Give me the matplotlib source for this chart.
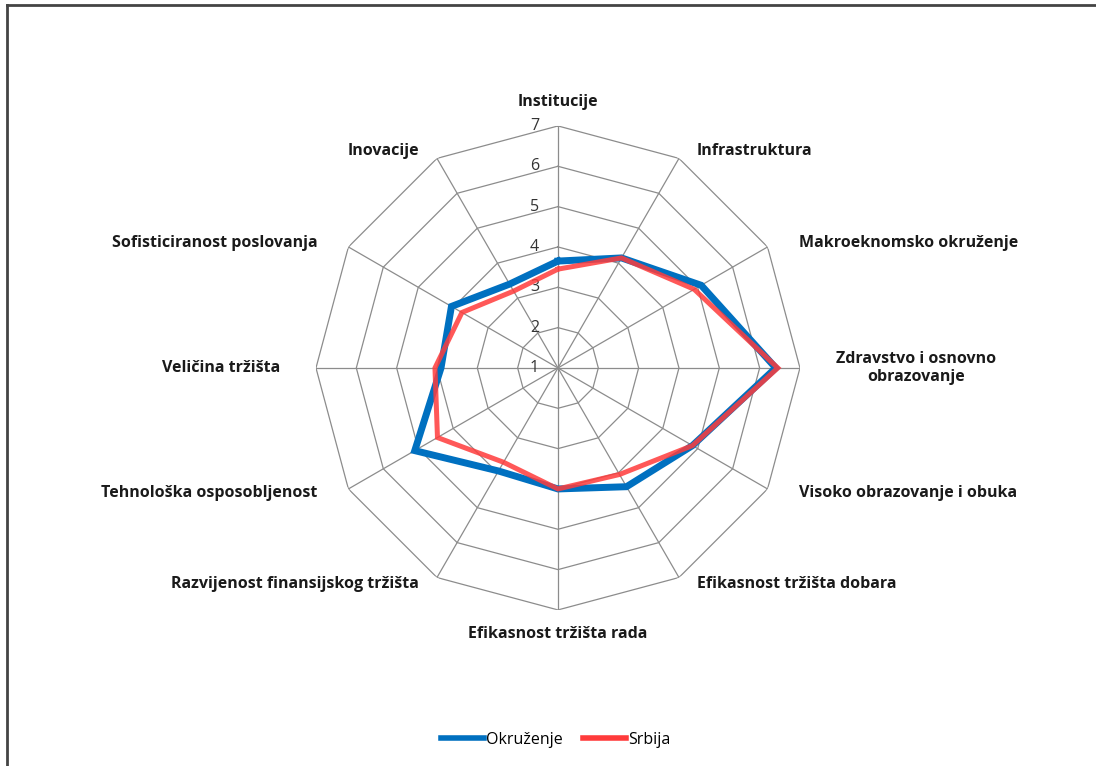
import numpy as np
import matplotlib
matplotlib.use("Agg")
from matplotlib import pyplot as plt
from matplotlib import transforms
from matplotlib.lines import Line2D

plt.rcParams['font.family'] = ['Open Sans', 'DejaVu Sans']

kategorije = ["Institucije", "Infrastruktura", "Makroeknomsko okruženje",
              "Zdravstvo i osnovno\nobrazovanje", "Visoko obrazovanje i obuka",
              "Efikasnost tržišta dobara", "Efikasnost tržišta rada",
              "Razvijenost finansijskog tržišta", "Tehnološka osposobljenost",
              "Veličina tržišta", "Sofisticiranost poslovanja", "Inovacije"]
okruzenje = [3.65, 4.15, 5.1, 6.4, 4.85, 4.4, 4.0, 3.95, 5.1, 3.9, 4.05, 3.4]
srbija = [3.45, 4.15, 4.9, 6.45, 4.85, 4.05, 4.0, 3.7, 4.45, 4.05, 3.75, 3.2]
skala = [1, 2, 3, 4, 5, 6, 7]

n = len(kategorije)
ugao = np.linspace(0, 2*np.pi, n, endpoint=False)
ugao_z = np.append(ugao, ugao[0])

fig = plt.figure(figsize=(10.96, 7.66), dpi=100)
ax = fig.add_axes([0.2883, 0.2037, 0.4416, 0.6319], projection='polar')
ax.set_theta_zero_location('N')
ax.set_theta_direction(-1)
ax.set_ylim(1, 7)
ax.grid(False)
ax.spines['polar'].set_visible(False)
ax.set_xticks([])
ax.set_yticks([])
ax.patch.set_alpha(0)

# mreza (poligoni)
for v in skala[1:]:
    ax.plot(ugao_z, [v]*(n+1), color='#8c8c8c', lw=0.9, zorder=1)
for a in ugao:
    ax.plot([a, a], [1, 7], color='#8c8c8c', lw=0.9, zorder=1)

# podaci
ax.plot(ugao_z, okruzenje + okruzenje[:1], color='#0070C0', lw=5, zorder=3,
        solid_joinstyle='miter')
ax.plot(ugao_z, srbija + srbija[:1], color='#FF3B3B', lw=3.6, alpha=0.85, zorder=4,
        solid_joinstyle='miter')

# oznake skale
off = transforms.offset_copy(ax.transData, fig=fig, x=-19, y=0, units='dots')
for v in skala:
    ax.text(0, v, str(v), transform=off, ha='right', va='center',
            fontsize=11.5, color='#333333')

# nazivi
for a, k in zip(ugao, kategorije):
    s, c = np.sin(a), np.cos(a)
    if abs(s) < 0.01:
        ha = 'center'
        dx, dy = 0, 24*c
    else:
        ha = 'left' if s > 0 else 'right'
        dx, dy = 36*s, 8*c
    tr = transforms.offset_copy(ax.transData, fig=fig, x=dx, y=dy, units='dots')
    ax.text(a, 7, k, transform=tr, ha=ha, va='center', fontsize=11.5,
            fontweight='bold', color='#1a1a1a', multialignment='center',
            clip_on=False)

handles = [Line2D([], [], color='#0070C0', lw=4),
           Line2D([], [], color='#FF3B3B', lw=4)]
fig.legend(handles, ["Okruženje", "Srbija"], loc='center',
           bbox_to_anchor=(0.507, 0.034), ncol=2, frameon=False,
           fontsize=11.5, handlelength=2.7, handletextpad=0.1, columnspacing=1.3)

# okvir
fig.add_artist(Line2D([0.006, 1.0], [0.993, 0.993], color='#444444', lw=2))
fig.add_artist(Line2D([0.006, 0.006], [0.0, 0.993], color='#444444', lw=2))

fig.savefig("out.png", dpi=100)
